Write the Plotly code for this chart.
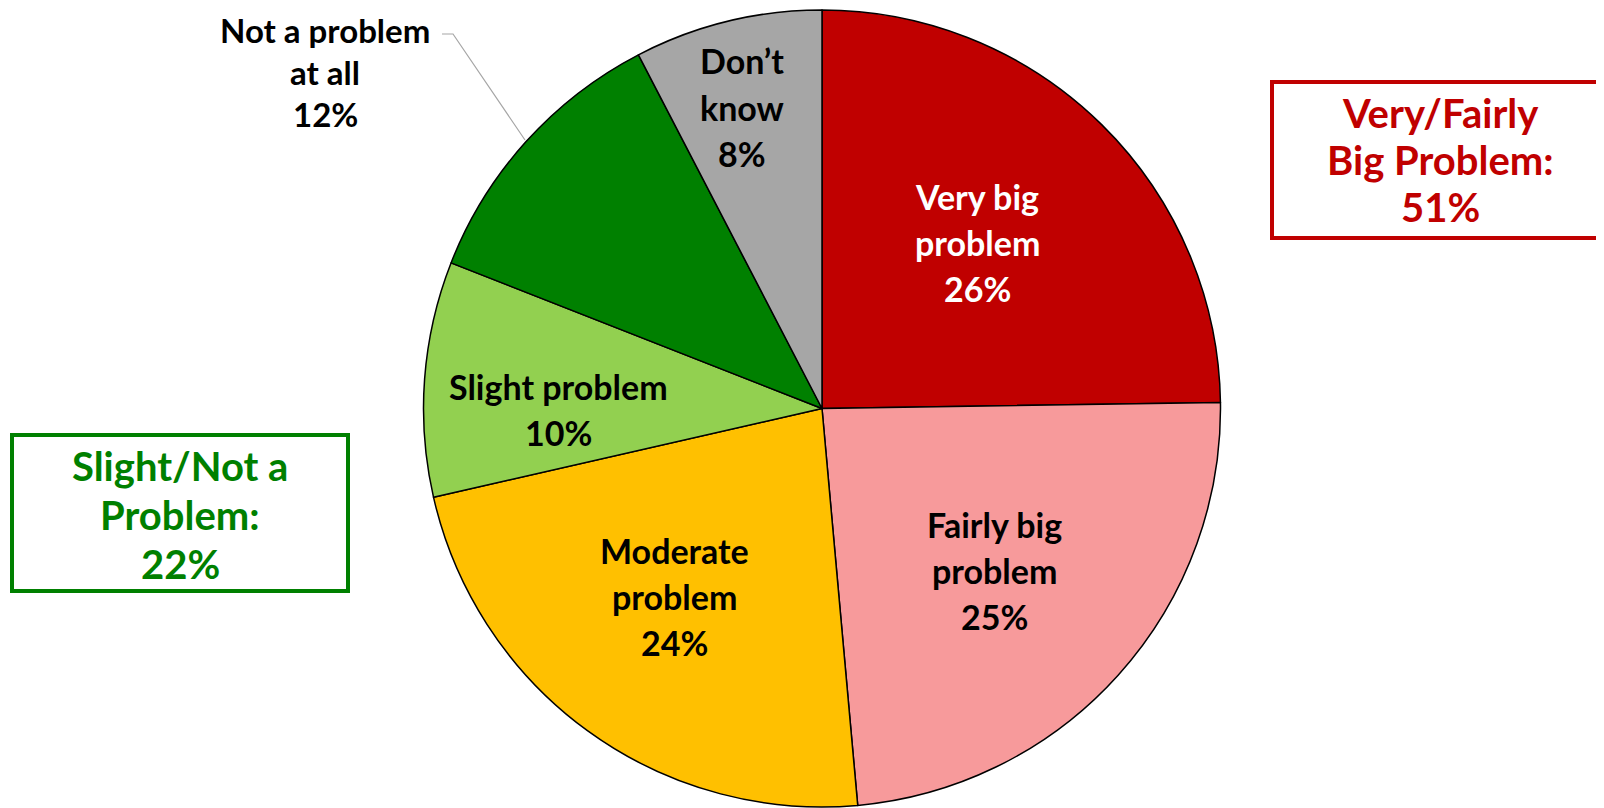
import plotly.graph_objects as go

W, H = 1604, 808
OFF = 8  # page body margin pushes the figure 8px right/down

categories = ["Very big problem", "Fairly big problem", "Moderate problem",
              "Slight problem", "Not a problem at all", "Don’t know"]
values = [26, 25, 24, 10, 12, 8]
colors = ["#C00000", "#F79A9B", "#FFC000", "#92D050", "#008000", "#A6A6A6"]

# how each slice label is broken into lines
label_lines = [["Very big", "problem"], ["Fairly big", "problem"], ["Moderate", "problem"],
               ["Slight problem"], ["Not a problem", "at all"], ["Don’t", "know"]]
label_colors = ["white", "black", "black", "black", "black", "black"]
# label centre positions in pixels (x, y of middle of block)
label_pos = [(977, 242), (995, 570), (674, 596), (558, 409), (325, 72), (742, 107)]
label_gap = [46, 46, 46, 46, 42, 46]
label_size = [34, 34, 34, 34, 33, 34]

summary_red = ["Very/Fairly", "Big Problem:", "51%"]
summary_green = ["Slight/Not a", "Problem:", "22%"]

FONT = "Lato"


def px(x, y):
    return (x - OFF) / W, 1 - (y - OFF) / H


annotations = []


def add_block(lines, cx, cy, color, size, spacing):
    n = len(lines)
    for i, t in enumerate(lines):
        y = cy + (i - (n - 1) / 2) * spacing
        ax, ay = px(cx, y)
        annotations.append(dict(
            x=ax, y=ay, xref="paper", yref="paper", text="<b>" + t + "</b>",
            showarrow=False, xanchor="center", yanchor="middle", borderpad=0,
            font=dict(family=FONT, size=size, color=color)))


for lines, v, c, (cx, cy), g, s in zip(label_lines, values, label_colors,
                                       label_pos, label_gap, label_size):
    add_block(lines + [f"{v}%"], cx, cy, c, s, g)

add_block(summary_red, 1440, 160, "#C00000", 40, 47)
add_block(summary_green, 180, 515, "#008000", 40, 49)

dx0, dy1 = px(423, 10)
dx1, dy0 = px(1221, 807)
fig = go.Figure(go.Pie(
    labels=categories,
    values=values,
    sort=False,
    direction="clockwise",
    rotation=0,
    marker=dict(colors=colors, line=dict(color="black", width=1.5)),
    textinfo="none",
    hoverinfo="label+percent",
    showlegend=False,
    domain=dict(x=[dx0, dx1], y=[dy0, dy1]),
))

shapes = []
x0, y0 = px(1272, 82)
x1, y1 = px(1600, 238)
shapes.append(dict(type="rect", xref="paper", yref="paper", x0=x0, y0=y1, x1=x1, y1=y0,
                   line=dict(color="#C00000", width=4)))
x0, y0 = px(12, 435)
x1, y1 = px(348, 591)
shapes.append(dict(type="rect", xref="paper", yref="paper", x0=x0, y0=y1, x1=x1, y1=y0,
                   line=dict(color="#008000", width=4)))

# leader line for "Not a problem at all"
lx = [442, 453, 525]
ly = [34, 34, 140]
path = "M " + " L ".join(f"{px(a, b)[0]},{px(a, b)[1]}" for a, b in zip(lx, ly))
shapes.append(dict(type="path", xref="paper", yref="paper", path=path,
                   line=dict(color="#A6A6A6", width=1.2)))

fig.update_layout(
    width=W, height=H,
    margin=dict(l=0, r=0, t=0, b=0),
    paper_bgcolor="white",
    plot_bgcolor="white",
    annotations=annotations,
    shapes=shapes,
)

fig.write_html("out.html")
